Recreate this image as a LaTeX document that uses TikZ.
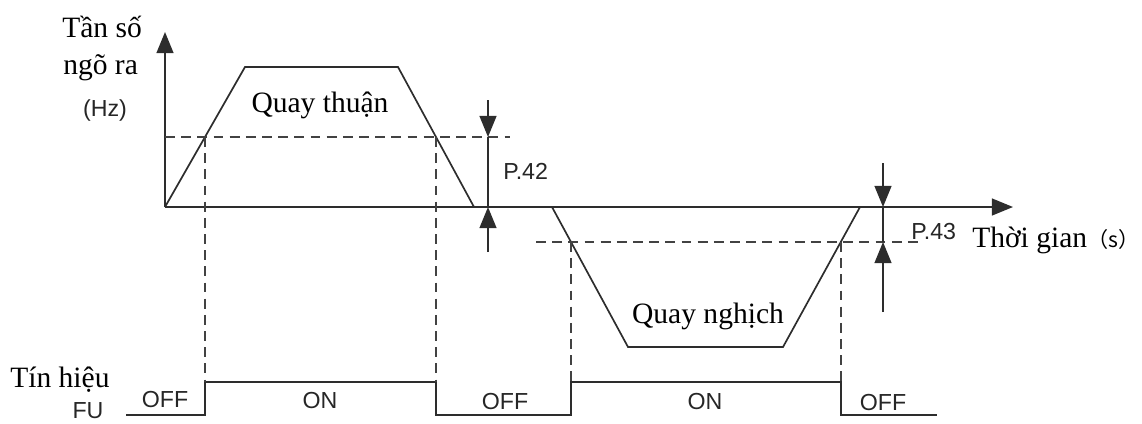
\documentclass[tikz,border=0pt]{standalone}
\usepackage{fontspec}
\setmainfont{Liberation Serif}
\setsansfont{Liberation Sans}
\newfontfamily\cjk{Noto Sans CJK SC}
\usetikzlibrary{arrows.meta}
\definecolor{ink}{RGB}{45,45,45}
\newcommand{\drawline}{\draw[line width=1.2pt, color=ink]}
\newcommand{\drawdashed}{\draw[line width=1.2pt, color=ink!90, dash pattern=on 7pt off 4.5pt]}
\newcommand{\drawtip}{\draw[line width=1.2pt, color=ink, -{Triangle[length=15pt,width=12pt]}]}
\tikzset{
  serif/.style={font=\fontsize{21}{24}\selectfont, inner sep=0pt},
  sans/.style={font=\sffamily\fontsize{16.5}{18}\selectfont, inner sep=0pt, text=black!85},
}
\begin{document}
\begin{tikzpicture}[x=0.025cm,y=-0.025cm]
\useasboundingbox (0,0) rectangle (1142,423);
\coordinate (O) at (165,207);
\coordinate (ytop) at (165,32);
\coordinate (xend) at (1013,207);
\coordinate (f1) at (245,67);
\coordinate (f2) at (398,67);
\coordinate (f3) at (474,207);
\coordinate (r0) at (552,207);
\coordinate (r1) at (628,347);
\coordinate (r2) at (783,347);
\coordinate (r3) at (860,207);
\coordinate (hf) at (510,137);
\coordinate (hr0) at (536,242);
\coordinate (hr1) at (922,242);
\coordinate (fa) at (205,137);
\coordinate (fb) at (436,137);
\coordinate (ra) at (571,242);
\coordinate (rb) at (841,242);
\coordinate (s0) at (126,415);
\coordinate (s1) at (205,415);
\coordinate (s2) at (205,382);
\coordinate (s3) at (436,382);
\coordinate (s4) at (436,415);
\coordinate (s5) at (571,415);
\coordinate (s6) at (571,382);
\coordinate (s7) at (841,382);
\coordinate (s8) at (841,415);
\coordinate (s9) at (937,415);
\coordinate (pa) at (488,100);
\coordinate (pb) at (488,137);
\coordinate (pc) at (488,207);
\coordinate (pd) at (488,252);
\coordinate (qa) at (883,163);
\coordinate (qb) at (883,207);
\coordinate (qc) at (883,242);
\coordinate (qd) at (883,312);

\drawtip (O) -- (ytop);
\drawtip (O) -- (xend);
\drawline (O) -- (f1) -- (f2) -- (f3);
\drawline (r0) -- (r1) -- (r2) -- (r3);
\drawline (s0) -- (s1) -- (s2) -- (s3) -- (s4) -- (s5) -- (s6) -- (s7) -- (s8) -- (s9);

\drawdashed (O |- hf) -- (hf);
\drawdashed (hr0) -- (hr1);
\drawdashed (fa) -- (s2);
\drawdashed (fb) -- (s3);
\drawdashed (ra) -- (s6);
\drawdashed (rb) -- (s7);

\drawtip (pa) -- (pb);
\drawline (pb) -- (pc);
\drawtip (pd) -- (pc);
\drawtip (qa) -- (qb);
\drawline (qb) -- (qc);
\drawtip (qd) -- (qc);

\node[serif, anchor=base west] (tanso) at (62,37) {Tần số};
\node[serif, anchor=base west] (ngora) at (63,74) {ngõ ra};
\node[sans] (hz) at (105,110) {(Hz)};
\node[serif] (thuan) at (320,105) {Quay thuận};
\node[serif] (nghich) at (708,316) {Quay nghịch};
\node[sans, anchor=west] (p42) at (503,171) {P.42};
\node[sans, anchor=west] (p43) at (911,232) {P.43};
\node[serif, anchor=west] (tgian) at (972,240) {Thời gian{\cjk\fontsize{15}{18}\selectfont （s）\kern-0.55em}};
\node[serif, anchor=base west] (tinhieu) at (10,387) {Tín hiệu};
\node[sans] (fu) at (88,411) {FU};
\node[sans] (off1) at (165,400) {OFF};
\node[sans] (on1) at (320,401) {ON};
\node[sans] (off2) at (505,402) {OFF};
\node[sans] (on2) at (705,402) {ON};
\node[sans] (off3) at (883,403) {OFF};
\end{tikzpicture}
\end{document}
